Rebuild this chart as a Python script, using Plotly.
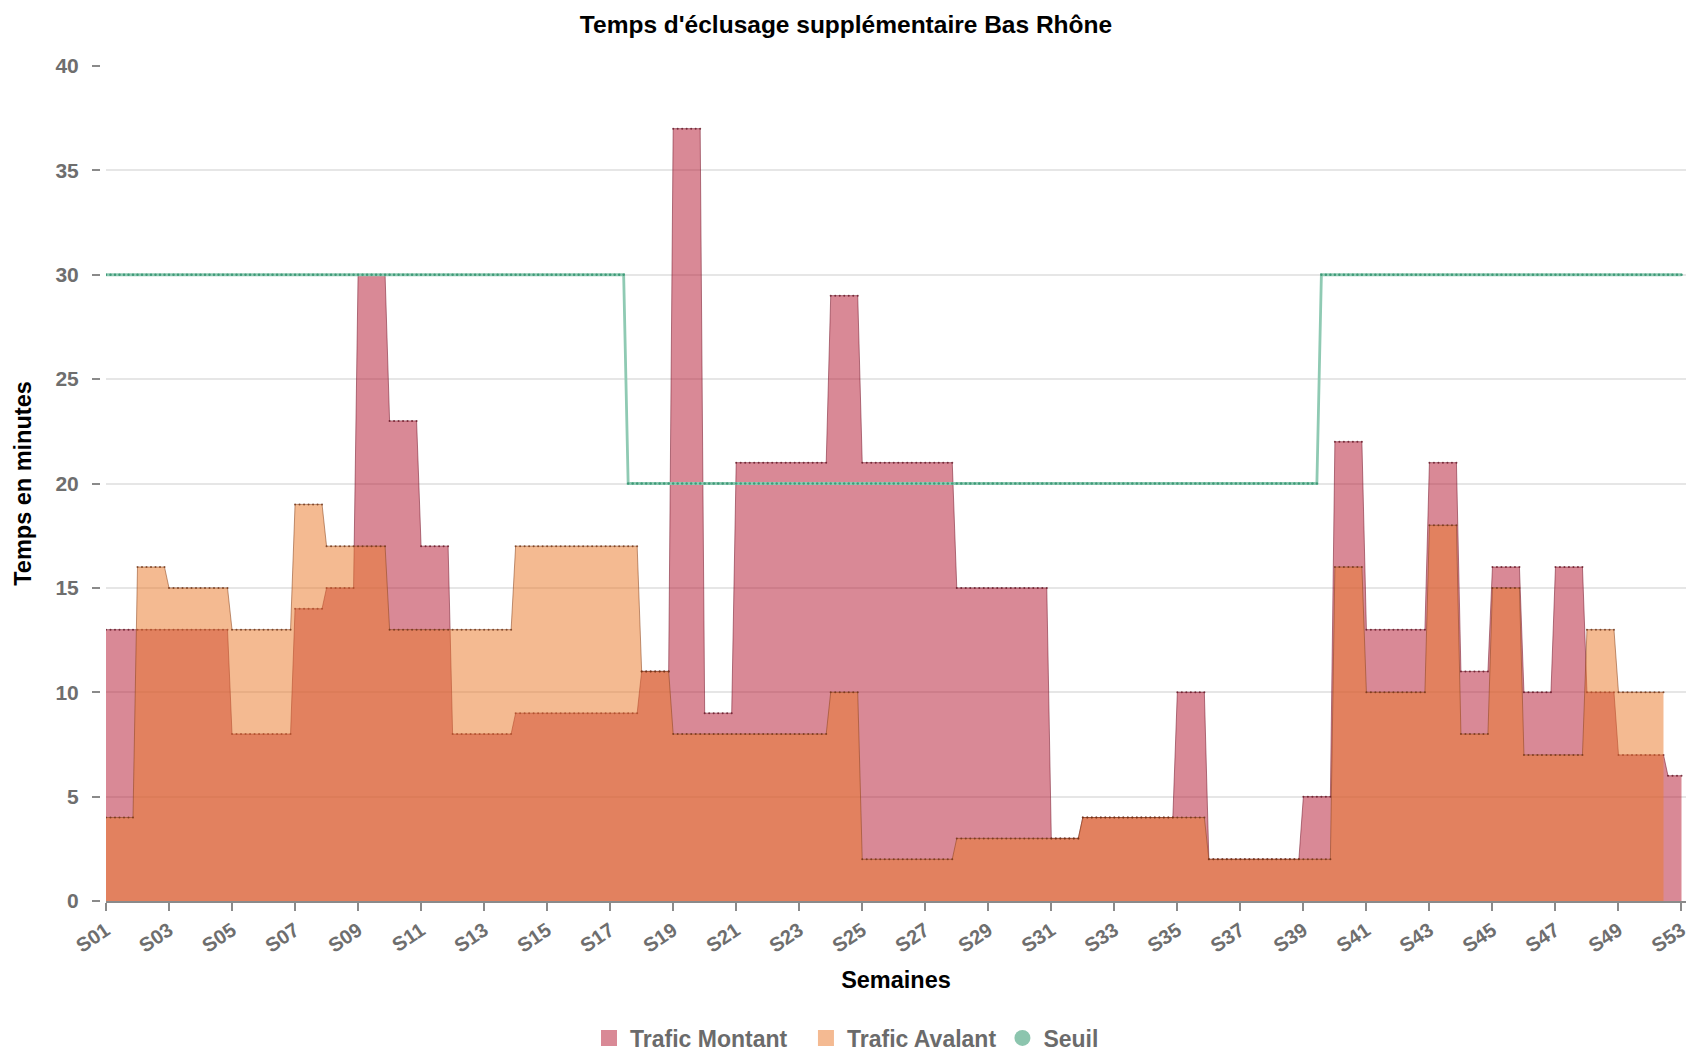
import plotly.graph_objects as go

# ---- data (weekly values) ----
weeks = ["S01", "S02", "S03", "S04", "S05", "S06", "S07", "S08", "S09", "S10",
         "S11", "S12", "S13", "S14", "S15", "S16", "S17", "S18", "S19", "S20",
         "S21", "S22", "S23", "S24", "S25", "S26", "S27", "S28", "S29", "S30",
         "S31", "S32", "S33", "S34", "S35", "S36", "S37", "S38", "S39", "S40",
         "S41", "S42", "S43", "S44", "S45", "S46", "S47", "S48", "S49", "S50",
         "S53"]
# number of daily records available in each week
days_per_week = [7, 7, 7, 7, 7, 7, 7, 7, 7, 7,
                 7, 7, 7, 7, 7, 7, 7, 7, 7, 7,
                 7, 7, 7, 7, 7, 7, 7, 7, 7, 7,
                 7, 7, 7, 7, 7, 7, 7, 7, 7, 7,
                 7, 7, 7, 7, 7, 7, 7, 7, 7, 4,
                 4]
trafic_montant = [13, 13, 13, 13, 8, 8, 14, 15, 30, 23,
                  17, 8, 8, 9, 9, 9, 9, 11, 37, 9,
                  21, 21, 21, 29, 21, 21, 21, 15, 15, 15,
                  3, 4, 4, 4, 10, 2, 2, 2, 5, 22,
                  13, 13, 21, 11, 16, 10, 16, 10, 7, 7,
                  6]
trafic_avalant = [4, 16, 15, 15, 13, 13, 19, 17, 17, 13,
                  13, 13, 13, 17, 17, 17, 17, 11, 8, 8,
                  8, 8, 8, 10, 2, 2, 2, 3, 3, 3,
                  3, 4, 4, 4, 4, 2, 2, 2, 2, 16,
                  10, 10, 18, 8, 15, 7, 7, 13, 10, 10,
                  None]
# threshold: level and the day index (from the first record) at which it starts
seuil_levels = [30, 20, 30]
seuil_start_day = [0, 116, 270]

# ---- expand to daily records ----
day_x, mont_y, week_of_day = [], [], []
aval_x, aval_y = [], []
d = 0
for w, n, m, a in zip(weeks, days_per_week, trafic_montant, trafic_avalant):
    for _ in range(n):
        day_x.append(d)
        mont_y.append(m)
        week_of_day.append(w)
        if a is not None:
            aval_x.append(d)
            aval_y.append(a)
        d += 1

seuil_y = []
for dx in day_x:
    lvl = seuil_levels[0]
    for s, l in zip(seuil_start_day, seuil_levels):
        if dx >= s:
            lvl = l
    seuil_y.append(lvl)

tickvals = day_x[::14]
ticktext = [week_of_day[i] for i in tickvals]

FONT = "Liberation Sans, Arial, sans-serif"
PINK_FILL = "rgba(179,19,45,0.5)"
ORANGE_FILL = "rgba(234,122,45,0.52)"
NB = "\u00a0"

fig = go.Figure()

fig.add_trace(go.Scatter(
    x=day_x, y=mont_y, mode="lines+markers", fill="tozeroy",
    fillcolor=PINK_FILL,
    line=dict(color="rgba(120,25,45,0.55)", width=1),
    marker=dict(size=2, color="rgba(100,20,35,0.8)"),
    showlegend=False, hoverinfo="skip"))

fig.add_trace(go.Scatter(
    x=aval_x, y=aval_y, mode="lines+markers", fill="tozeroy",
    fillcolor=ORANGE_FILL,
    line=dict(color="rgba(140,70,30,0.55)", width=1),
    marker=dict(size=2, color="rgba(110,50,20,0.8)"),
    showlegend=False, hoverinfo="skip"))

fig.add_trace(go.Scatter(
    x=day_x, y=seuil_y, mode="lines+markers",
    line=dict(color="#8fcab3", width=2.8),
    marker=dict(size=2.5, color="#3f9a78"),
    showlegend=False, hoverinfo="skip"))

# legend entries
for name, col, sym in [("Trafic Montant" + NB * 2, "rgb(217,137,150)", "square"),
                       ("Trafic Avalant", "rgb(244,186,146)", "square"),
                       ("Seuil", "rgb(140,197,174)", "circle")]:
    fig.add_trace(go.Scatter(x=[None], y=[None], mode="markers", name=name,
                             marker=dict(symbol=sym, size=18, color=col)))

L = 100
W = 1692
R = 3
plot_w = W - L - R

fig.update_layout(
    width=W, height=1051,
    margin=dict(l=L, r=R, t=66, b=150),
    paper_bgcolor="white", plot_bgcolor="white",
    font=dict(family=FONT),
    title=dict(text="Temps d'éclusage supplémentaire Bas Rhône",
               font=dict(size=24.5, color="black", family=FONT, weight="bold"),
               x=0.5, xref="container", xanchor="center",
               y=1 - 24 / 1051, yref="container", yanchor="middle"),
    legend=dict(orientation="h", xref="container", x=0.5, xanchor="center",
                yref="container", y=1 - 1038 / 1051, yanchor="middle",
                font=dict(size=23, color="#6b6b6b", family=FONT, weight="bold"),
                itemwidth=32, tracegroupgap=0),
    xaxis=dict(domain=[6 / plot_w, 1], range=[0, 351],
               tickvals=tickvals, ticktext=ticktext,
               tickangle=-34, showgrid=False, zeroline=False,
               showline=True, linecolor="#8a8a8a", linewidth=2,
               ticks="outside", ticklen=8, tickwidth=2, tickcolor="#8a8a8a",
               ticklabeloverflow="allow",
               tickfont=dict(size=20, color="#6e6e6e", family=FONT, weight="bold"),
               title=dict(text="Semaines", standoff=16,
                          font=dict(size=23.5, color="black", family=FONT, weight="bold"))),
    yaxis=dict(range=[0, 40], tickvals=[0, 5, 10, 15, 20, 25, 30, 35, 40],
               anchor="free", position=0,
               showgrid=True, gridcolor="#e6e6e6", gridwidth=2,
               zeroline=False, showline=False,
               ticks="outside", ticklen=8, tickwidth=2, tickcolor="#8a8a8a",
               ticklabelstandoff=9,
               tickfont=dict(size=21, color="#6e6e6e", family=FONT, weight="bold"),
               title=dict(text="Temps en minutes", standoff=16,
                          font=dict(size=23.5, color="black", family=FONT, weight="bold"))),
)

fig.write_html("out.html", config={"displayModeBar": False},
               post_script="document.body.style.margin='0';")
